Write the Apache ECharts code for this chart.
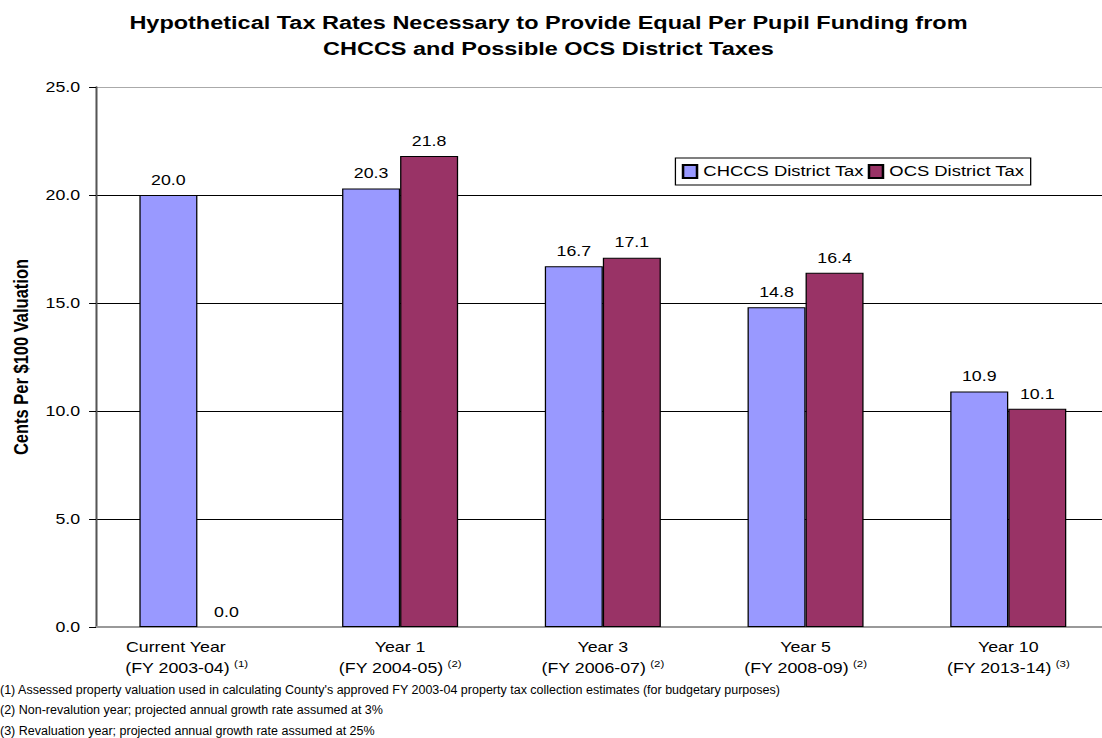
<!DOCTYPE html>
<html>
<head>
<meta charset="utf-8">
<script src="https://cdn.jsdelivr.net/npm/echarts@6/dist/echarts.min.js"></script>
<style>
html,body{margin:0;padding:0;background:#fff;overflow:hidden;}
#wrap{width:1102px;height:738px;overflow:hidden;position:relative;}
#chart{width:874px;height:738px;transform-origin:0 0;transform:scaleX(1.26959);}
</style>
</head>
<body>
<div id="wrap"><div id="chart"></div></div>
<script>
const categories = ['Current Year', 'Year 1', 'Year 3', 'Year 5', 'Year 10'];
const fiscalYears = ['FY 2003-04', 'FY 2004-05', 'FY 2006-07', 'FY 2008-09', 'FY 2013-14'];
const noteRefs = ['(1)', '(2)', '(2)', '(2)', '(3)'];
const chccsTax = [20.0, 20.3, 16.7, 14.8, 10.9];
const ocsTax = [0.0, 21.8, 17.1, 16.4, 10.1];
const seriesNames = ['CHCCS District Tax', 'OCS District Tax'];
const footnotes = [
  "(1) Assessed property valuation used in calculating County's approved FY 2003-04 property tax collection estimates (for budgetary purposes)",
  "(2) Non-revalution year; projected annual growth rate assumed at 3%",
  "(3) Revaluation year; projected annual growth rate assumed at 25%"
];
const titleLines = [
  'Hypothetical Tax Rates Necessary to Provide Equal Per Pupil Funding from',
  'CHCCS and Possible OCS District Taxes'
];

// The reference picture is stretched horizontally; the chart is drawn narrower and stretched by CSS.
const STRETCH = 1102 / 868;
const FONT = '"Liberation Sans", Arial, sans-serif';
const chart = echarts.init(document.getElementById('chart'), null, {renderer: 'svg'});

const labelCommon = {
  show: true, position: 'top', distance: 8, color: '#000',
  fontFamily: FONT, fontSize: 14,
  formatter: p => p.value.toFixed(1)
};
const barBorder = {borderColor: '#000', borderWidth: 1};
const lineA = {fontFamily: FONT, fontSize: 14, color: '#000', lineHeight: 21};
const lineS = {fontFamily: FONT, fontSize: 9, color: '#000', lineHeight: 21, padding: [0, 0, 9, 0]};

const titleGraphic = {
  type: 'text', x: 432, y: 9,
  style: {
    text: titleLines.join('\n'), x: 0, y: 0,
    font: 'bold 18.5px ' + FONT, fill: '#000',
    align: 'center', verticalAlign: 'top', lineHeight: 26
  }
};

const option = {
  backgroundColor: '#fff',
  animation: false,
  textStyle: {fontFamily: FONT},
  legend: {
    data: seriesNames,
    left: 532, top: 158,
    orient: 'horizontal',
    itemWidth: 11, itemHeight: 13, itemGap: 3,
    icon: 'rect',
    padding: [6, 5, 6, 5],
    borderColor: '#000', borderWidth: 1,
    backgroundColor: '#fff',
    textStyle: {fontFamily: FONT, fontSize: 14.5, color: '#000'}
  },
  grid: {left: 73.5, right: 0, top: 87, bottom: 111, containLabel: false},
  xAxis: {
    type: 'category',
    data: categories,
    axisLine: {show: true, lineStyle: {color: '#999', width: 2}},
    axisTick: {show: false},
    axisLabel: {
      interval: 0, margin: 10, color: '#000',
      formatter: (v, i) => {
        const k = i === 0 ? '0' : '';
        return '{a' + k + '|' + v + '}\n{a|(' + fiscalYears[i] + ')} {s' + k + '|' + noteRefs[i] + '}';
      },
      rich: {
        a: lineA,
        s: lineS,
        a0: Object.assign({}, lineA, {padding: [0, 34, 0, 0]}),
        s0: Object.assign({}, lineS, {padding: [0, 17, 9, 0]})
      }
    }
  },
  yAxis: {
    type: 'value', min: 0, max: 25, interval: 5,
    name: 'Cents Per $100 Valuation',
    nameLocation: 'middle', nameGap: 49, nameRotate: 90,
    nameTextStyle: {fontFamily: FONT, fontSize: 16.5, fontWeight: 'bold', color: '#000'},
    axisLine: {show: true, lineStyle: {color: '#555', width: 1.6}},
    axisTick: {show: true, inside: false, length: 5.5, lineStyle: {color: '#000'}},
    axisLabel: {color: '#000', fontFamily: FONT, fontSize: 14, margin: 12.5, formatter: v => v.toFixed(1)},
    splitLine: {show: true, lineStyle: {color: ['#999', '#000', '#000', '#000', '#000', '#aaa'], width: 1}}
  },
  series: [
    {
      name: seriesNames[0], type: 'bar', data: chccsTax,
      barWidth: 45.7, barGap: '0%',
      itemStyle: Object.assign({color: '#9999FF'}, barBorder),
      label: labelCommon
    },
    {
      name: seriesNames[1], type: 'bar',
      data: ocsTax.map(v => v === 0 ? {value: v, itemStyle: {borderWidth: 0}} : v),
      barWidth: 45.7,
      itemStyle: Object.assign({color: '#993366'}, barBorder),
      label: labelCommon
    }
  ],
  graphic: [titleGraphic].concat(footnotes.map((t, i) => ({
    type: 'text', x: 0, y: 683.5 + i * 20.3, scaleX: 1 / STRETCH, originX: 0, originY: 0,
    style: {text: t, x: 0, y: 0, font: '12.5px ' + FONT, fill: '#000', verticalAlign: 'top'}
  })))
};
chart.setOption(option);
</script>
</body>
</html>
